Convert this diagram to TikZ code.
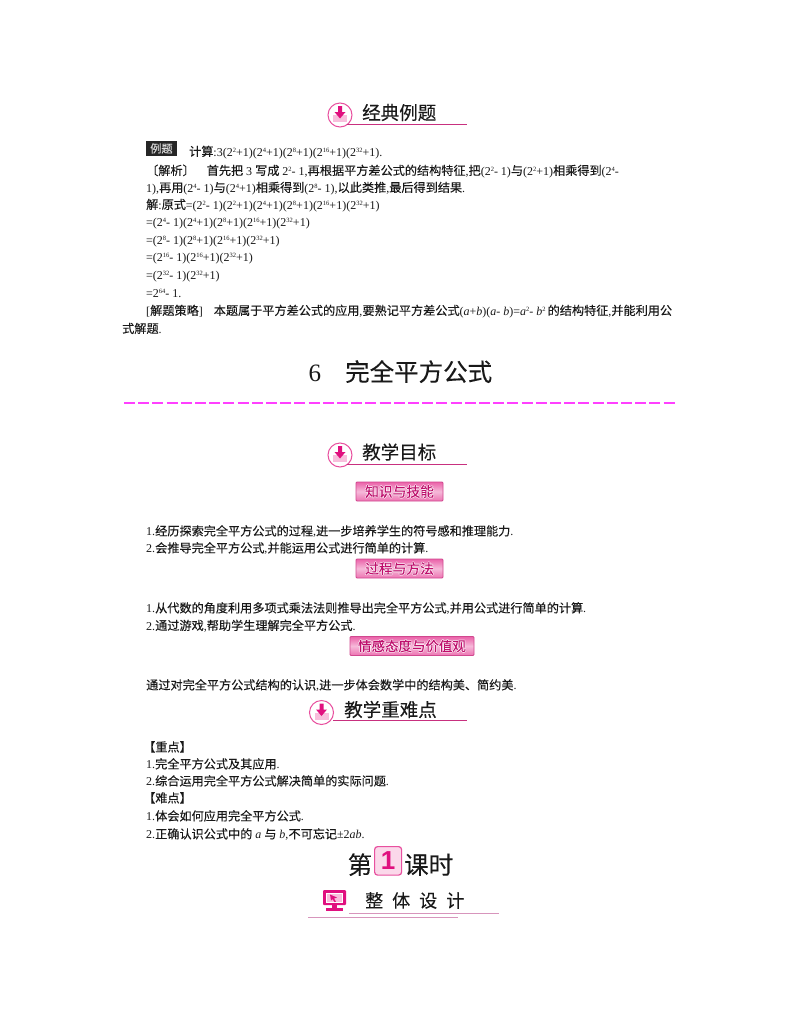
\documentclass[tikz,border=0pt]{standalone}
\usepackage{fontspec}
\setmainfont{Liberation Serif}
\setsansfont{Liberation Sans}
\newfontfamily\cjk[Scale=1.012,FakeBold=0.12]{Noto Sans CJK SC}
\newcommand{\zh}[1]{{\cjk #1}}
\newcommand{\p}[1]{\raisebox{4pt}{\fontsize{6.5}{7}\selectfont #1}}
\newcommand{\fs}[1]{\fontsize{#1}{#1}\selectfont}
\newcommand{\halo}[1]{%
  \rlap{\hspace{.6pt}\textcolor{white}{#1}}\rlap{\hspace{-.6pt}\textcolor{white}{#1}}%
  \rlap{\raisebox{.6pt}{\textcolor{white}{#1}}}\rlap{\raisebox{-.6pt}{\textcolor{white}{#1}}}#1}
\definecolor{rulepink}{HTML}{C8307F}
\definecolor{iconpink}{HTML}{E0107F}
\definecolor{iconpale}{HTML}{F8BEDC}
\definecolor{bannerpink}{HTML}{E8509F}
\definecolor{dashpink}{HTML}{FF40FF}
\definecolor{palerule}{HTML}{D795BC}
\tikzset{
  txt/.style={anchor=base west,inner sep=0pt,font=\fs{12},text=black!90},
  headtxt/.style={anchor=west,inner sep=0pt,font=\cjk\fs{18.3},text=black!90},
  headrule/.style={draw=rulepink,line width=1.2pt},
  banner/.style={minimum height=19pt,inner sep=0pt,draw=bannerpink!90!black,line width=.8pt,rounded corners=1pt,
    top color=bannerpink!90,bottom color=bannerpink!80,middle color=white!60!bannerpink,
    text=iconpink!85!black,font=\cjk\fs{13.6}},
  dlicon/.pic={
    \fill[white] (0,0) circle (12);
    \fill[iconpale] (-7,0) -- (7,0) -- (7,7) -- (-7,7) -- cycle;
    \draw[bannerpink,line width=1pt] (0,0) circle (12);
    \fill[iconpink] (-2,-9) -- (2,-9) -- (2,-3) -- (5.5,-3) -- (0,3.5) -- (-5.5,-3) -- (-2,-3) -- cycle;
  }
}
\begin{document}
\begin{tikzpicture}[x=1pt,y=-1pt]
  \useasboundingbox[fill=white] (0,0) rectangle (800,1028);

  \pic at (340,115) {dlicon};
  \draw[headrule] (347,124.5) -- (467,124.5);
  \node[headtxt] (headA) at (362,112.5) {经典例题};

  \node[anchor=north west,minimum width=30.5pt,minimum height=14.5pt,inner sep=0pt,fill=black!85,text=white!85!black,font=\cjk\fs{11}] (badge) at (146,141) {例题};
  \node[txt] (a1) at (189,156) {\zh{计算}:3(2\p{2}+1)(2\p{4}+1)(2\p{8}+1)(2\p{16}+1)(2\p{32}+1).};
  \node[txt] (a2) at (146,175) {\zh{〔解析〕}\hspace{12pt}\zh{首先把} 3 \zh{写成} 2\p{2}- 1,\zh{再根据平方差公式的结构特征},\zh{把}(2\p{2}- 1)\zh{与}(2\p{2}+1)\zh{相乘得到}(2\p{4}-};
  \node[txt] (a3) at (146,192) {1),\zh{再用}(2\p{4}- 1)\zh{与}(2\p{4}+1)\zh{相乘得到}(2\p{8}- 1),\zh{以此类推},\zh{最后得到结果}.};
  \node[txt] (a4) at (146,209) {\zh{解}:\zh{原式}=(2\p{2}- 1)(2\p{2}+1)(2\p{4}+1)(2\p{8}+1)(2\p{16}+1)(2\p{32}+1)};
  \node[txt] (a5) at (146,226) {=(2\p{4}- 1)(2\p{4}+1)(2\p{8}+1)(2\p{16}+1)(2\p{32}+1)};
  \node[txt] (a6) at (146,244) {=(2\p{8}- 1)(2\p{8}+1)(2\p{16}+1)(2\p{32}+1)};
  \node[txt] (a7) at (146,261) {=(2\p{16}- 1)(2\p{16}+1)(2\p{32}+1)};
  \node[txt] (a8) at (146,279) {=(2\p{32}- 1)(2\p{32}+1)};
  \node[txt] (a9) at (146,297) {=2\p{64}- 1.};
  \node[txt] (a10) at (146,315) {[\zh{解题策略}]\hspace{11pt}\zh{本题属于平方差公式的应用},\zh{要熟记平方差公式}(\textit{a}+\textit{b})(\textit{a}- \textit{b})=\textit{a}\p{2}- \textit{b}\p{2}\,\zh{的结构特征},\zh{并能利用公}};
  \node[txt] (a11) at (122,333) {\zh{式解题}.};

  \node[txt,font=\fs{25}] (six) at (308.5,381) {6};
  \node[anchor=base west,inner sep=0pt,font=\cjk\fs{24.2},text=black!90] (title) at (345,381) {完全平方公式};
  \draw[dashpink,line width=1.2pt,dash pattern=on 11pt off 3.2pt] (124,403) -- (677,403);

  \pic at (340,455) {dlicon};
  \draw[headrule] (347,464.5) -- (467,464.5);
  \node[headtxt] (headB) at (362,452) {教学目标};

  \node[banner,minimum width=87pt] (knowledge) at (399.5,491.5) {\halo{知识与技能}};
  \node[txt] (b1) at (146,535.5) {1.\zh{经历探索完全平方公式的过程},\zh{进一步培养学生的符号感和推理能力}.};
  \node[txt] (b2) at (146,552.5) {2.\zh{会推导完全平方公式},\zh{并能运用公式进行简单的计算}.};
  \node[banner,minimum width=87pt] (process) at (399.5,568.5) {\halo{过程与方法}};
  \node[txt] (b3) at (146,612.5) {1.\zh{从代数的角度利用多项式乘法法则推导出完全平方公式},\zh{并用公式进行简单的计算}.};
  \node[txt] (b4) at (146,630) {2.\zh{通过游戏},\zh{帮助学生理解完全平方公式}.};
  \node[banner,minimum width=124pt,font=\cjk\fs{13.3}] (attitude) at (412,646) {\halo{情感态度与价值观}};
  \node[txt] (b5) at (146,689.5) {\zh{通过对完全平方公式结构的认识},\zh{进一步体会数学中的结构美、简约美}.};

  \pic at (321.5,712.5) {dlicon};
  \draw[headrule] (333,720.5) -- (467,720.5);
  \node[headtxt] (headC) at (344,709.5) {教学重难点};

  \node[txt] (c1) at (143,751.5) {\zh{【重点】}};
  \node[txt] (c2) at (146,768.5) {1.\zh{完全平方公式及其应用}.};
  \node[txt] (c3) at (146,785.5) {2.\zh{综合运用完全平方公式解决简单的实际问题}.};
  \node[txt] (c4) at (143,802.5) {\zh{【难点】}};
  \node[txt] (c5) at (146,820.5) {1.\zh{体会如何应用完全平方公式}.};
  \node[txt] (c6) at (146,838.5) {2.\zh{正确认识公式中的} \textit{a} \zh{与} \textit{b},\zh{不可忘记}±2\textit{ab}.};

  \node[anchor=base west,inner sep=0pt,font=\cjk\fs{24.2},text=black!90] (di) at (347.5,874) {第};
  \node[anchor=north west,minimum width=27pt,minimum height=28.5pt,inner sep=0pt,draw=bannerpink,line width=1.2pt,rounded corners=3pt,fill=iconpale!60,text=iconpink,font=\sffamily\bfseries\fs{26}] (num) at (374,846) {1};
  \node[anchor=base west,inner sep=0pt,font=\cjk\fs{24.2},text=black!90] (keshi) at (404,874) {课时};

  \fill[iconpink,rounded corners=1pt] (323,890) rectangle (346,905);
  \fill[white] (326,893) rectangle (343,902.5);
  \fill[iconpale] (327,894) -- (342,894) -- (342,901.5) -- (327,901.5) -- cycle;
  \fill[iconpink] (330,894.5) -- (337,897.5) -- (334,898.5) -- (336,901.5) -- (334.5,902) -- (332.5,899) -- (331,900.5) -- cycle;
  \fill[iconpink] (332,905) rectangle (337,908);
  \fill[iconpink] (326,908) rectangle (343,911);
  \node[anchor=west,inner sep=0pt,font=\cjk\fs{17.8},text=black!90] (whole) at (365,900.5) {整\hspace{9pt}体\hspace{9pt}设\hspace{9pt}计};
  \draw[palerule,line width=1.2pt] (349,913.5) -- (499,913.5);
  \draw[palerule,line width=1.2pt] (308,917.5) -- (458,917.5);
\end{tikzpicture}
\end{document}
